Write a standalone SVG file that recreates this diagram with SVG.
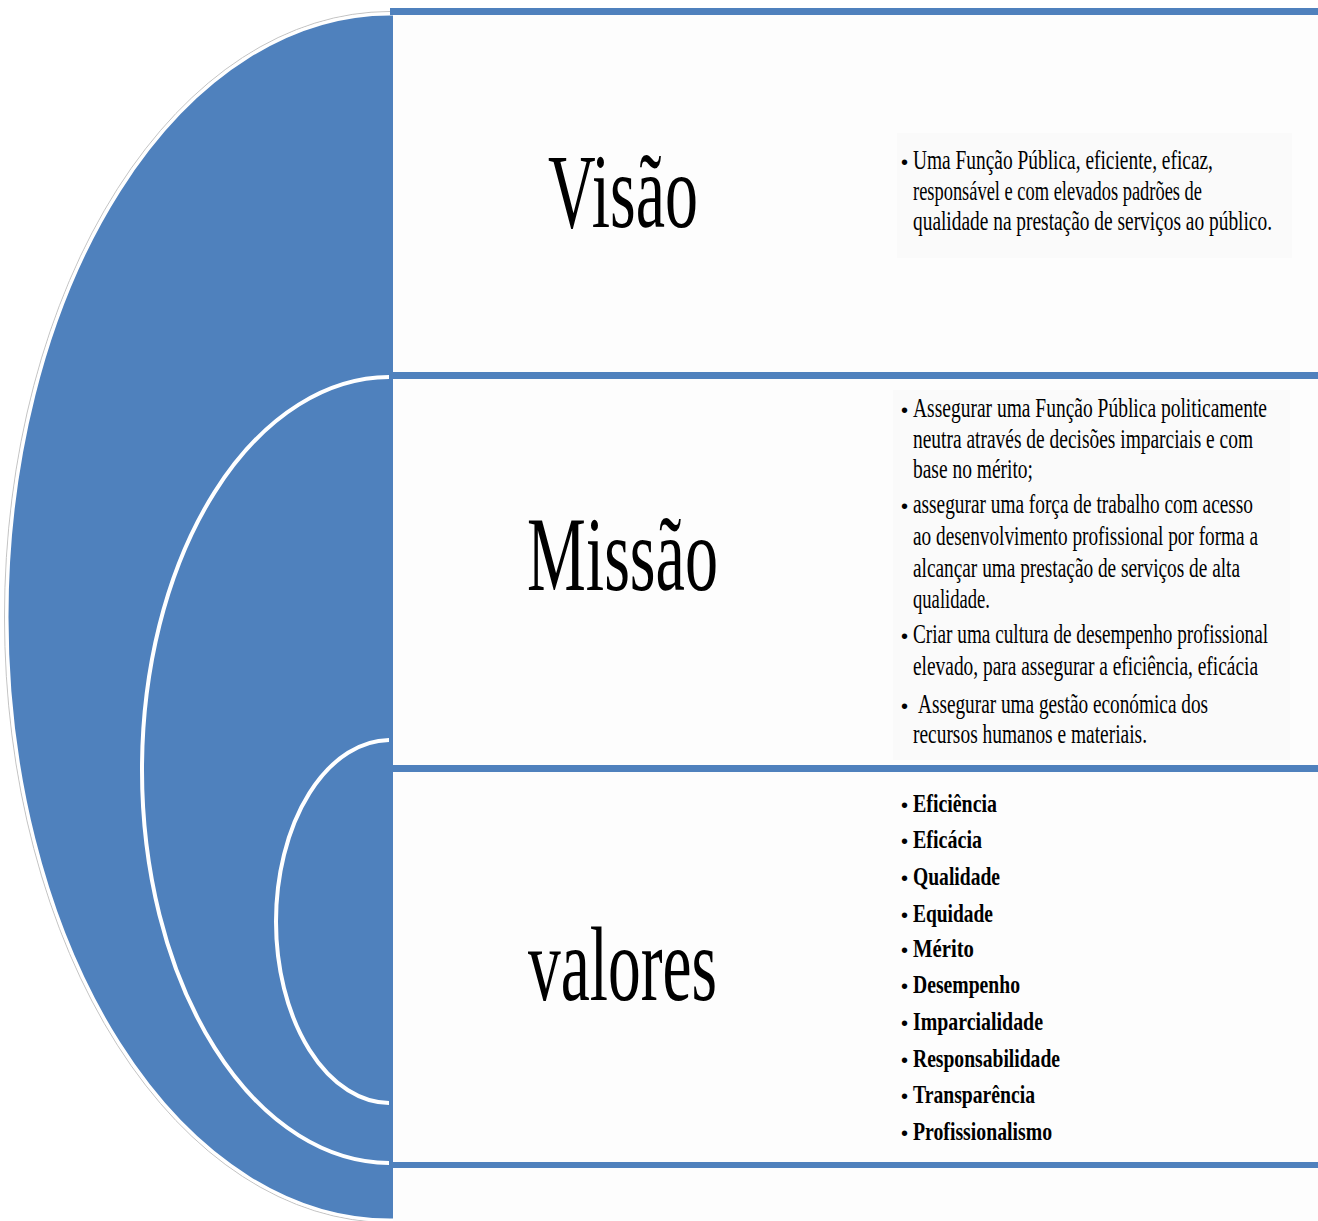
<svg xmlns="http://www.w3.org/2000/svg" width="1318" height="1221" viewBox="0 0 1318 1221">
<style>
.t{font-family:"Liberation Serif","Times New Roman",serif;fill:#000}
.title{font-size:106px}
.body{font-size:28px}
.val{font-size:26px;font-weight:bold}
.bul{font-family:"Liberation Sans",Arial,sans-serif;font-size:20px;fill:#000}
.box{fill:#fdfdfd}
.tbg{fill:#fafafa}
.sep{fill:#4F81BD}
.arc{fill:none;stroke:#fff;stroke-width:4}
</style>
<defs>
<clipPath id="cl"><rect x="0" y="0" width="393" height="1221"/></clipPath>
<clipPath id="ca"><rect x="0" y="0" width="389" height="1221"/></clipPath>
</defs>
<rect width="1318" height="1221" fill="#fff"/>
<g id="shape" clip-path="url(#cl)">
<ellipse cx="390" cy="617" rx="385.5" ry="605.5" fill="none" stroke="#c4c4c4" stroke-width="1"/>
<ellipse cx="390" cy="617" rx="383" ry="603" fill="#4F81BD" stroke="#fff" stroke-width="3"/>
</g>
<g id="arcs" clip-path="url(#ca)">
<ellipse class="arc" cx="390" cy="770" rx="248" ry="393"/>
<ellipse class="arc" cx="390" cy="921.5" rx="114" ry="181.5"/>
</g>
<g id="boxes">
<rect class="box" x="393" y="15" width="925" height="357"/>
<rect class="box" x="393" y="379" width="925" height="386"/>
<rect class="box" x="393" y="772" width="925" height="390"/>
<rect class="box" x="393" y="1168" width="925" height="53"/>
<rect class="tbg" x="897" y="133" width="395" height="125"/>
<rect class="tbg" x="893" y="390" width="397" height="370"/>
</g>
<g id="separators">
<rect class="sep" x="390" y="8" width="928" height="7"/>
<rect class="sep" x="390" y="372" width="928" height="7"/>
<rect class="sep" x="390" y="765" width="928" height="7"/>
<rect class="sep" x="390" y="1162" width="928" height="6"/>
</g>
<g id="visao">
<text class="t title" transform="translate(548,227) scale(0.6,1)" x="0" y="0" textLength="250" lengthAdjust="spacingAndGlyphs">Visão</text>
<text class="bul" x="901" y="169">•</text>
<g transform="translate(913,0) scale(0.65,1)">
<text class="t body" x="0" y="169" textLength="461.5" lengthAdjust="spacingAndGlyphs">Uma Função Pública, eficiente, eficaz,</text>
<text class="t body" x="0" y="200" textLength="444.6" lengthAdjust="spacingAndGlyphs">responsável e com elevados padrões de</text>
<text class="t body" x="0" y="230" textLength="552.3" lengthAdjust="spacingAndGlyphs">qualidade na prestação de serviços ao público.</text>
</g>
</g>
<g id="missao">
<text class="t title" transform="translate(527,590) scale(0.6,1)" x="0" y="0" textLength="318.3" lengthAdjust="spacingAndGlyphs">Missão</text>
<text class="bul" x="901" y="417">•</text>
<text class="bul" x="901" y="513">•</text>
<text class="bul" x="901" y="643">•</text>
<text class="bul" x="901" y="713">•</text>
<g transform="translate(913,0) scale(0.65,1)">
<text class="t body" x="0" y="417" textLength="544.6" lengthAdjust="spacingAndGlyphs">Assegurar uma Função Pública politicamente</text>
<text class="t body" x="0" y="448" textLength="523.1" lengthAdjust="spacingAndGlyphs">neutra através de decisões imparciais e com</text>
<text class="t body" x="0" y="478" textLength="184.6" lengthAdjust="spacingAndGlyphs">base no mérito;</text>
<text class="t body" x="0" y="513" textLength="523.1" lengthAdjust="spacingAndGlyphs">assegurar uma  força de trabalho com acesso</text>
<text class="t body" x="0" y="545" textLength="530.8" lengthAdjust="spacingAndGlyphs">ao desenvolvimento profissional por forma a</text>
<text class="t body" x="0" y="577" textLength="503.1" lengthAdjust="spacingAndGlyphs">alcançar uma prestação de serviços de alta</text>
<text class="t body" x="0" y="608" textLength="118.5" lengthAdjust="spacingAndGlyphs">qualidade.</text>
<text class="t body" x="0" y="643" textLength="546.2" lengthAdjust="spacingAndGlyphs">Criar uma  cultura de desempenho profissional</text>
<text class="t body" x="0" y="675" textLength="530.8" lengthAdjust="spacingAndGlyphs">elevado, para assegurar a  eficiência, eficácia</text>
<text class="t body" x="7.7" y="713" textLength="446.2" lengthAdjust="spacingAndGlyphs">Assegurar uma  gestão económica dos</text>
<text class="t body" x="0" y="743" textLength="360" lengthAdjust="spacingAndGlyphs">recursos humanos e materiais.</text>
</g>
</g>
<g id="valores">
<text class="t title" transform="translate(528,1000) scale(0.6,1)" x="0" y="0" textLength="315" lengthAdjust="spacingAndGlyphs">valores</text>
<text class="bul" x="901" y="812">•</text>
<text class="bul" x="901" y="848">•</text>
<text class="bul" x="901" y="885">•</text>
<text class="bul" x="901" y="922">•</text>
<text class="bul" x="901" y="957">•</text>
<text class="bul" x="901" y="993">•</text>
<text class="bul" x="901" y="1030">•</text>
<text class="bul" x="901" y="1067">•</text>
<text class="bul" x="901" y="1103">•</text>
<text class="bul" x="901" y="1140">•</text>
<g transform="translate(913,0) scale(0.7,1)">
<text class="t val" x="0" y="812" textLength="120" lengthAdjust="spacingAndGlyphs">Eficiência</text>
<text class="t val" x="0" y="848" textLength="98.6" lengthAdjust="spacingAndGlyphs">Eficácia</text>
<text class="t val" x="0" y="885" textLength="124.3" lengthAdjust="spacingAndGlyphs">Qualidade</text>
<text class="t val" x="0" y="922" textLength="114.3" lengthAdjust="spacingAndGlyphs">Equidade</text>
<text class="t val" x="0" y="957" textLength="87.1" lengthAdjust="spacingAndGlyphs">Mérito</text>
<text class="t val" x="0" y="993" textLength="152.9" lengthAdjust="spacingAndGlyphs">Desempenho</text>
<text class="t val" x="0" y="1030" textLength="185.7" lengthAdjust="spacingAndGlyphs">Imparcialidade</text>
<text class="t val" x="0" y="1067" textLength="210" lengthAdjust="spacingAndGlyphs">Responsabilidade</text>
<text class="t val" x="0" y="1103" textLength="174.3" lengthAdjust="spacingAndGlyphs">Transparência</text>
<text class="t val" x="0" y="1140" textLength="198.6" lengthAdjust="spacingAndGlyphs">Profissionalismo</text>
</g>
</g>
</svg>
